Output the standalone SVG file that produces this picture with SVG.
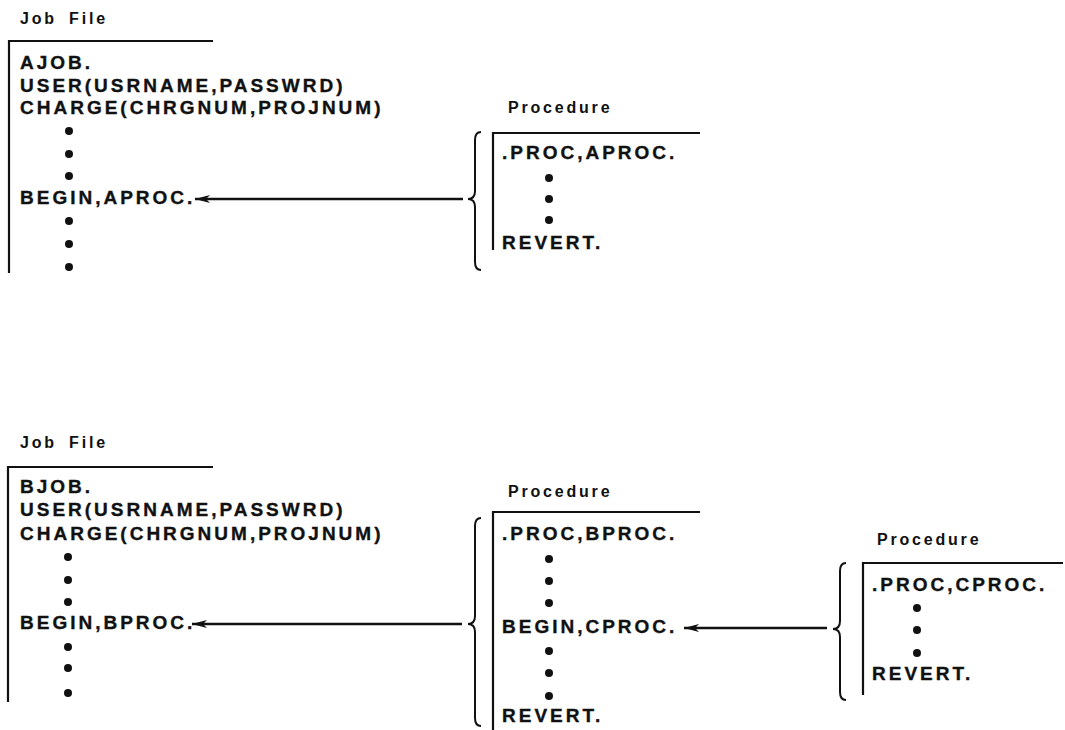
<svg xmlns="http://www.w3.org/2000/svg" width="1065" height="730" viewBox="0 0 1065 730">
<style>
.lbl{font-family:"Liberation Sans",Arial,sans-serif;font-weight:bold;font-size:16px;letter-spacing:2.8px;fill:#111}
.jf{word-spacing:5px}
.t{font-family:"Liberation Sans",Arial,sans-serif;font-weight:bold;font-size:19px;letter-spacing:3px;fill:#111;stroke:#111;stroke-width:0.35}
.fr{fill:none;stroke:#111;stroke-width:2.2}
.br{fill:none;stroke:#111;stroke-width:2}
.dot{fill:#111}
.ar{stroke:#111;stroke-width:2.6;fill:none;marker-end:url(#ah)}
</style>
<defs>
<marker id="ah" markerUnits="userSpaceOnUse" markerWidth="16" markerHeight="10" refX="15" refY="5" orient="auto">
<path d="M0,1 L15,5 L0,9 L4,5 Z" fill="#111"/>
</marker>
</defs>
<rect width="1065" height="730" fill="#fff"/>

<g id="jobA">
<text class="lbl jf" x="20" y="24">Job File</text>
<path class="fr" d="M213,41 H9 V273"/>
<text class="t" x="20" y="69">AJOB.</text>
<text class="t" x="20" y="92">USER(USRNAME,PASSWRD)</text>
<text class="t" x="20" y="114">CHARGE(CHRGNUM,PROJNUM)</text>
<circle class="dot" cx="69" cy="131" r="4"/><circle class="dot" cx="69" cy="154" r="4"/><circle class="dot" cx="69" cy="176" r="4"/>
<text class="t" x="20" y="204">BEGIN,APROC.</text>
<circle class="dot" cx="69" cy="221" r="4"/><circle class="dot" cx="69" cy="244" r="4"/><circle class="dot" cx="69" cy="267" r="4"/>
</g>

<g id="procA">
<path class="br" d="M481,132 Q475,132 475,140 L475,191 Q475,199 468,199 Q475,199 475,207 L475,262 Q475,270 481,270"/>
<text class="lbl" x="508" y="113">Procedure</text>
<path class="fr" d="M700,133 H493 V250"/>
<text class="t" x="502" y="159">.PROC,APROC.</text>
<circle class="dot" cx="549" cy="178" r="4"/><circle class="dot" cx="549" cy="199" r="4"/><circle class="dot" cx="549" cy="220" r="4"/>
<text class="t" x="502" y="249">REVERT.</text>
</g>

<g id="jobB">
<text class="lbl jf" x="20" y="448">Job File</text>
<path class="fr" d="M213,467 H8 V702"/>
<text class="t" x="20" y="493">BJOB.</text>
<text class="t" x="20" y="516">USER(USRNAME,PASSWRD)</text>
<text class="t" x="20" y="540">CHARGE(CHRGNUM,PROJNUM)</text>
<circle class="dot" cx="68" cy="557" r="4"/><circle class="dot" cx="68" cy="580" r="4"/><circle class="dot" cx="68" cy="602" r="4"/>
<text class="t" x="20" y="629">BEGIN,BPROC.</text>
<circle class="dot" cx="68" cy="647" r="4"/><circle class="dot" cx="68" cy="668" r="4"/><circle class="dot" cx="68" cy="693" r="4"/>
</g>

<g id="procB">
<path class="br" d="M481,518 Q475,518 475,526 L475,616 Q475,624 468,624 Q475,624 475,632 L475,718 Q475,726 481,726"/>
<text class="lbl" x="508" y="497">Procedure</text>
<path class="fr" d="M700,512 H493 V730"/>
<text class="t" x="502" y="540">.PROC,BPROC.</text>
<circle class="dot" cx="549" cy="559" r="4"/><circle class="dot" cx="549" cy="581" r="4"/><circle class="dot" cx="549" cy="603" r="4"/>
<text class="t" x="502" y="633">BEGIN,CPROC.</text>
<circle class="dot" cx="549" cy="651" r="4"/><circle class="dot" cx="549" cy="673" r="4"/><circle class="dot" cx="549" cy="696" r="4"/>
<text class="t" x="502" y="722">REVERT.</text>
</g>

<g id="procC">
<path class="br" d="M846,563 Q840,563 840,571 L840,621 Q840,629 833,629 Q840,629 840,637 L840,692 Q840,700 846,700"/>
<text class="lbl" x="877" y="545">Procedure</text>
<path class="fr" d="M1063,563 H863 V695"/>
<text class="t" x="872" y="591">.PROC,CPROC.</text>
<circle class="dot" cx="917" cy="608" r="4"/><circle class="dot" cx="917" cy="630" r="4"/><circle class="dot" cx="917" cy="653" r="4"/>
<text class="t" x="872" y="680">REVERT.</text>
</g>

<g id="connectors">
<line class="ar" x1="463" y1="199" x2="195" y2="199"/>
<line class="ar" x1="462" y1="624" x2="192" y2="624"/>
<line class="ar" x1="827" y1="628" x2="684" y2="628"/>
</g>
</svg>
